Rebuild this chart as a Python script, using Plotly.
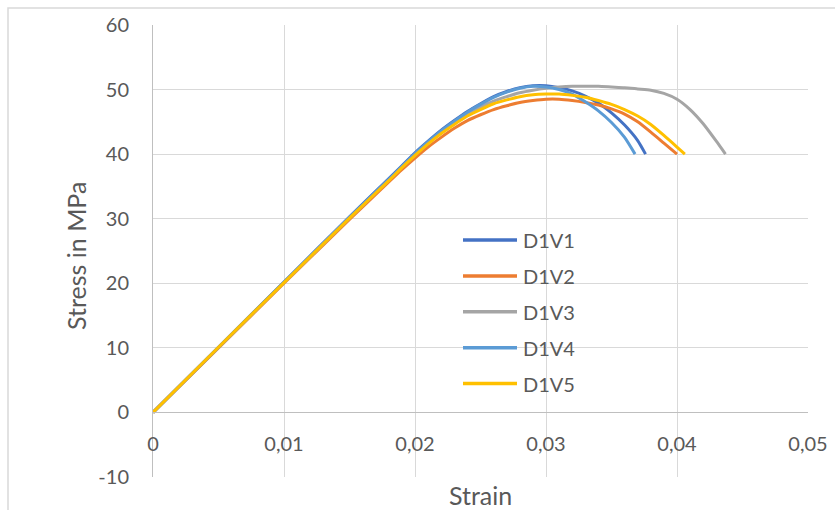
import plotly.graph_objects as go

# Tensile test curves for specimens D1V1 .. D1V5 (strain [-], stress [MPa])
d1v1_strain = [0, 0.005, 0.010, 0.015, 0.018, 0.019, 0.020, 0.021, 0.022, 0.023, 0.024, 0.025, 0.026, 0.027,
               0.028, 0.029, 0.030, 0.031, 0.032, 0.033, 0.034, 0.035, 0.036, 0.037, 0.0376]
d1v1_stress = [0, 10.1, 20.2, 30.3, 36.2, 38.2, 40.2, 42.0, 43.7, 45.2, 46.6, 47.8, 48.9, 49.7,
               50.3, 50.6, 50.6, 50.3, 49.8, 49.0, 47.9, 46.4, 44.5, 42.1, 40.0]

d1v2_strain = [0, 0.005, 0.010, 0.015, 0.018, 0.019, 0.020, 0.021, 0.022, 0.023, 0.024, 0.025, 0.026, 0.027,
               0.028, 0.029, 0.030, 0.031, 0.032, 0.033, 0.034, 0.035, 0.036, 0.037, 0.038, 0.039, 0.040]
d1v2_stress = [0, 10.0, 20.0, 29.9, 35.7, 37.6, 39.4, 41.1, 42.6, 44.0, 45.2, 46.1, 46.9, 47.5,
               48.0, 48.3, 48.5, 48.5, 48.3, 48.0, 47.6, 47.0, 46.2, 45.0, 43.4, 41.7, 40.0]

d1v3_strain = [0, 0.005, 0.010, 0.015, 0.018, 0.019, 0.020, 0.021, 0.022, 0.023, 0.024, 0.025, 0.026, 0.027,
               0.028, 0.029, 0.030, 0.031, 0.032, 0.033, 0.034, 0.035, 0.036, 0.037, 0.038, 0.039, 0.040,
               0.041, 0.042, 0.043, 0.0437]
d1v3_stress = [0, 10.1, 20.1, 30.1, 36.0, 38.0, 39.9, 41.7, 43.4, 44.9, 46.2, 47.3, 48.2, 48.9,
               49.5, 49.9, 50.2, 50.4, 50.5, 50.5, 50.5, 50.4, 50.3, 50.1, 49.9, 49.4, 48.5,
               46.9, 44.7, 42.0, 40.0]

d1v4_strain = [0, 0.005, 0.010, 0.015, 0.018, 0.019, 0.020, 0.021, 0.022, 0.023, 0.024, 0.025, 0.026, 0.027,
               0.028, 0.029, 0.030, 0.031, 0.032, 0.033, 0.034, 0.035, 0.036, 0.0368]
d1v4_stress = [0, 10.1, 20.2, 30.2, 36.1, 38.1, 40.1, 41.9, 43.6, 45.1, 46.5, 47.7, 48.8, 49.6,
               50.2, 50.5, 50.4, 50.0, 49.3, 48.1, 46.7, 44.9, 42.6, 40.0]

d1v5_strain = [0, 0.005, 0.010, 0.015, 0.018, 0.019, 0.020, 0.021, 0.022, 0.023, 0.024, 0.025, 0.026, 0.027,
               0.028, 0.029, 0.030, 0.031, 0.032, 0.033, 0.034, 0.035, 0.036, 0.037, 0.038, 0.039, 0.040, 0.0406]
d1v5_stress = [0, 10.1, 20.1, 30.1, 35.9, 37.9, 39.8, 41.6, 43.2, 44.6, 45.9, 46.9, 47.8, 48.4,
               48.9, 49.2, 49.3, 49.3, 49.1, 48.8, 48.3, 47.7, 46.9, 45.9, 44.6, 42.9, 41.1, 40.0]

series_names = ["D1V1", "D1V2", "D1V3", "D1V4", "D1V5"]
series_colors = ["#4472C4", "#ED7D31", "#A5A5A5", "#5B9BD5", "#FFC000"]

x_tick_values = [0, 0.01, 0.02, 0.03, 0.04, 0.05]
x_tick_labels = ["0", "0,01", "0,02", "0,03", "0,04", "0,05"]
y_tick_values = [-10, 0, 10, 20, 30, 40, 50, 60]
y_tick_labels = ["-10", "0", "10", "20", "30", "40", "50", "60"]

FONT = "Lato"
TEXT = "#595959"

W, H = 835, 510
ML, MR, MT, MB = 153, 27, 25, 33
PW, PH = W - ML - MR, H - MT - MB


def paper_x(px):
    return (px - ML) / PW


def paper_y(py):
    return (H - MB - py) / PH


curves = [
    (d1v1_strain, d1v1_stress),
    (d1v2_strain, d1v2_stress),
    (d1v3_strain, d1v3_stress),
    (d1v4_strain, d1v4_stress),
    (d1v5_strain, d1v5_stress),
]

fig = go.Figure()
for name, color, (xs, ys) in zip(series_names, series_colors, curves):
    fig.add_trace(go.Scatter(
        x=xs, y=ys, name=name, mode="lines",
        line=dict(color=color, width=3, shape="spline", smoothing=0.6),
        showlegend=False,
    ))

# Legend: a short line sample and the series name for every curve
legend_shapes = []
legend_labels = []
for i, (name, color) in enumerate(zip(series_names, series_colors)):
    row_y = paper_y(240 + i * 35.9)
    legend_shapes.append(dict(
        type="line", xref="paper", yref="paper",
        x0=paper_x(463), x1=paper_x(517), y0=row_y, y1=row_y,
        line=dict(color=color, width=3.5),
    ))
    legend_labels.append(dict(
        text=name, xref="paper", yref="paper",
        x=paper_x(521), y=row_y, xanchor="left", yanchor="middle",
        showarrow=False, font=dict(family=FONT, size=20, color=TEXT),
    ))

fig.update_layout(
    width=W, height=H,
    margin=dict(l=ML, r=MR, t=MT, b=MB, autoexpand=False),
    paper_bgcolor="white", plot_bgcolor="white",
    font=dict(family=FONT, color=TEXT, size=20),
    showlegend=False,
    xaxis=dict(
        range=[0, 0.05],
        tickvals=x_tick_values, ticktext=x_tick_labels,
        showgrid=True, gridcolor="#D9D9D9", gridwidth=1,
        zeroline=False,
        showline=True, linecolor="#BFBFBF", linewidth=1,
        anchor="free", position=1 / 7,
        ticks="", ticklabelstandoff=14,
        tickfont=dict(family=FONT, size=20, color=TEXT),
        automargin=False,
    ),
    yaxis=dict(
        range=[-10, 60],
        tickvals=y_tick_values, ticktext=y_tick_labels,
        showgrid=True, gridcolor="#D9D9D9", gridwidth=1,
        zeroline=False,
        showline=True, linecolor="#BFBFBF", linewidth=1,
        ticks="", ticklabelstandoff=19,
        tickfont=dict(family=FONT, size=20, color=TEXT),
        automargin=False,
    ),
    annotations=[
        dict(text="Strain", xref="paper", yref="paper",
             x=paper_x(480), y=paper_y(495), xanchor="center", yanchor="middle",
             showarrow=False, font=dict(family=FONT, size=25, color=TEXT)),
        dict(text="Stress in MPa", xref="paper", yref="paper",
             x=paper_x(76), y=paper_y(256), xanchor="center", yanchor="middle",
             textangle=-90, showarrow=False,
             font=dict(family=FONT, size=25, color=TEXT)),
    ] + legend_labels,
    shapes=[
        # chart area frame
        dict(type="rect", xref="paper", yref="paper",
             x0=paper_x(8), y0=paper_y(530), x1=paper_x(860), y1=paper_y(8),
             line=dict(color="#D9D9D9", width=1.5), fillcolor="rgba(0,0,0,0)",
             layer="below"),
    ] + legend_shapes,
)

fig.write_html("out.html")
